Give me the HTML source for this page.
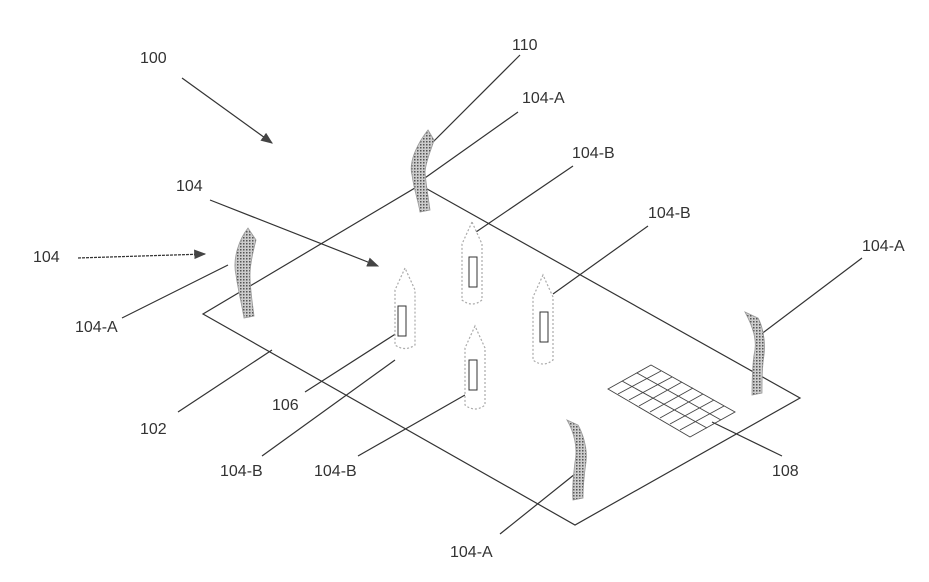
<!DOCTYPE html>
<html><head><meta charset="utf-8"><style>
html,body{margin:0;padding:0;background:#fff;}
svg{display:block}
text{font-family:"Liberation Sans",sans-serif;font-size:16px;fill:#333}
</style></head><body>
<svg width="929" height="582" viewBox="0 0 929 582" xmlns="http://www.w3.org/2000/svg">
<defs>
<marker id="ah" markerWidth="10" markerHeight="8" refX="9" refY="4" orient="auto"><path d="M0,0 L10,4 L0,8 z" fill="#444"/></marker>
<pattern id="dots" width="3" height="3" patternUnits="userSpaceOnUse"><rect width="3" height="3" fill="#ccc"/><rect width="1.5" height="1.5" fill="#555"/></pattern>
</defs>
<g stroke="#333" stroke-width="1.2" fill="none">
<polygon points="420,185 800,398 575,525 203,314"/>
<!-- leaders -->
<line x1="182" y1="78" x2="272" y2="143" marker-end="url(#ah)"/>
<line x1="210" y1="200" x2="378" y2="266" marker-end="url(#ah)"/>
<line x1="78" y1="258" x2="205" y2="254" marker-end="url(#ah)" stroke-dasharray="3,1"/>
<line x1="520" y1="55" x2="425" y2="150"/>
<line x1="518" y1="112" x2="415" y2="185"/>
<line x1="573" y1="166" x2="476" y2="232"/>
<line x1="648" y1="226" x2="553" y2="294"/>
<line x1="862" y1="258" x2="760" y2="335"/>
<line x1="122" y1="318" x2="228" y2="265"/>
<line x1="178" y1="412" x2="272" y2="350"/>
<line x1="305" y1="392" x2="397" y2="333"/>
<line x1="262" y1="456" x2="395" y2="360"/>
<line x1="358" y1="456" x2="465" y2="395"/>
<line x1="782" y1="456" x2="712" y2="422"/>
<line x1="500" y1="534" x2="580" y2="470"/>
</g>
<!-- shaded arrows -->
<g fill="url(#dots)" stroke="#999" stroke-width="0.8">
<path d="M428,130 C420,140 408,160 412,175 C414,190 418,200 420,212 L430,210 C428,195 426,185 425,172 C426,160 432,148 434,140 Z"/>
<path d="M248,228 C240,238 232,258 236,275 C238,290 242,305 244,318 L254,316 C252,300 250,288 250,275 C250,262 254,248 256,240 Z"/>
<path d="M745,312 C752,325 758,340 754,355 C752,370 752,385 752,395 L762,393 C762,380 762,368 764,355 C766,340 762,325 758,318 Z"/>
<path d="M567,420 C574,432 578,448 575,462 C573,478 572,490 573,500 L583,498 C583,487 584,476 586,462 C588,448 582,432 578,425 Z"/>
</g>
<!-- pens -->
<g fill="#fff" stroke="#aaa" stroke-width="1.2" stroke-dasharray="2,2">
<path d="M405,268 L395,290 L395,345 Q405,352 415,345 L415,290 Z"/>
<path d="M472,222 L462,244 L462,300 Q472,308 482,300 L482,244 Z"/>
<path d="M543,275 L533,297 L533,360 Q543,368 553,360 L553,297 Z"/>
<path d="M475,326 L465,348 L465,405 Q475,413 485,405 L485,348 Z"/>
</g>
<g fill="none" stroke="#333" stroke-width="1">
<rect x="398" y="306" width="8" height="30"/>
<rect x="469" y="257" width="8" height="30"/>
<rect x="540" y="312" width="8" height="30"/>
<rect x="469" y="360" width="8" height="30"/>
</g>
<!-- grid 108 -->
<g stroke="#444" stroke-width="0.9" fill="none">
<polygon points="608,389 651,365 735,412 690,437"/>
<line x1="622" y1="381" x2="707" y2="428"/>
<line x1="637" y1="373" x2="721" y2="420"/>
<line x1="618" y1="394" x2="661" y2="371"/>
<line x1="629" y1="400" x2="672" y2="377"/>
<line x1="639" y1="406" x2="682" y2="382"/>
<line x1="650" y1="412" x2="693" y2="388"/>
<line x1="660" y1="418" x2="703" y2="394"/>
<line x1="670" y1="424" x2="714" y2="400"/>
<line x1="680" y1="430" x2="724" y2="406"/>
</g>
<text x="140" y="63">100</text>
<text x="512" y="50">110</text>
<text x="522" y="103">104-A</text>
<text x="572" y="158">104-B</text>
<text x="648" y="218">104-B</text>
<text x="862" y="251">104-A</text>
<text x="176" y="191">104</text>
<text x="33" y="262">104</text>
<text x="75" y="332">104-A</text>
<text x="140" y="434">102</text>
<text x="272" y="410">106</text>
<text x="220" y="476">104-B</text>
<text x="314" y="476">104-B</text>
<text x="772" y="476">108</text>
<text x="450" y="557">104-A</text>
</svg>
</body></html>
